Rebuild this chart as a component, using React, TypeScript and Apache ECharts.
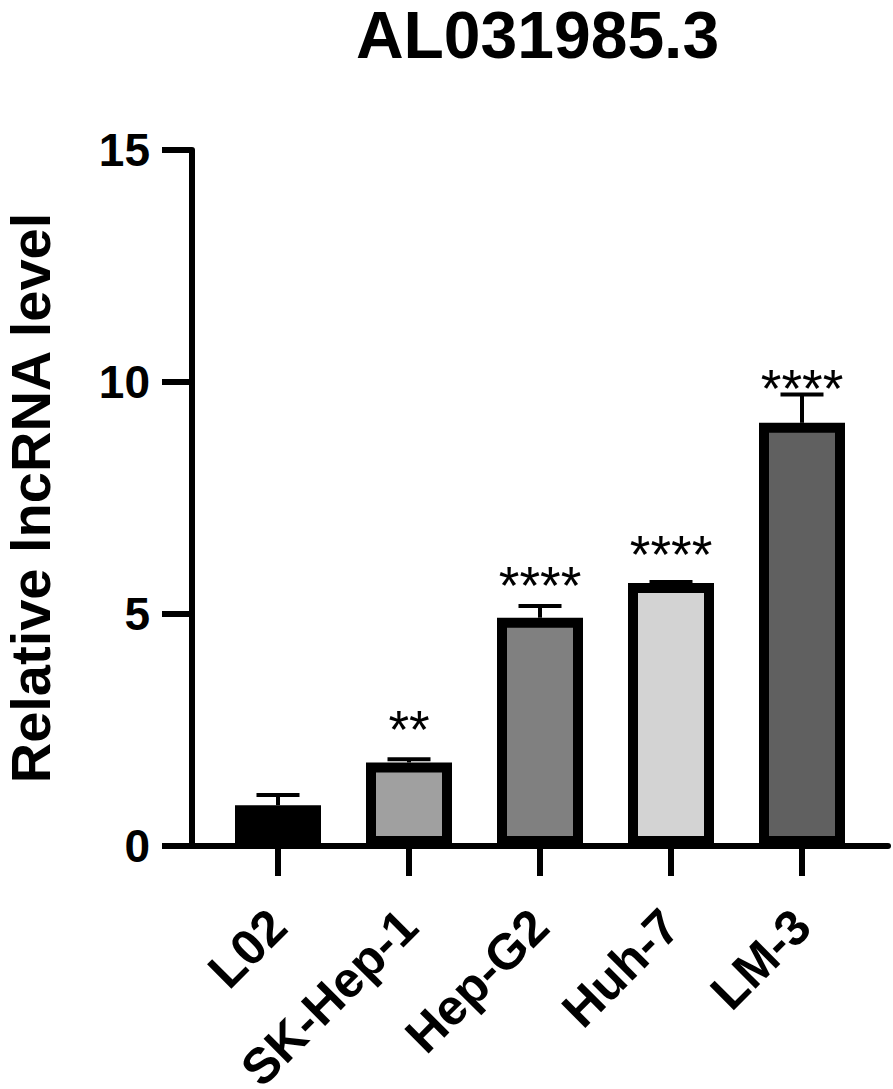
import React, { useEffect, useRef } from "react";
import * as echarts from "echarts";

const title = "AL031985.3";
const yAxisName = "Relative lncRNA level";
const categories = ["L02", "SK-Hep-1", "Hep-G2", "Huh-7", "LM-3"];
const means = [0.88, 1.8, 4.92, 5.67, 9.12];
const sds = [0.22, 0.07, 0.25, 0.02, 0.61];
const sigLabels = ["", "**", "****", "****", "****"];
const sigLabelY = [0, 2.76, 5.88, 6.55, 10.11];
const barColors = ["#000000", "#a0a0a0", "#808080", "#d3d3d3", "#606060"];
const yMin = 0;
const yMax = 15;
const yInterval = 5;

const FONT = "'Liberation Sans', Arial, Helvetica, sans-serif";

export default function App() {
  const ref = useRef<HTMLDivElement>(null);
  useEffect(() => {
    if (!ref.current) return;
    const chart = echarts.init(ref.current, null, { renderer: "svg" });
    const option: any = {
      animation: false,
      backgroundColor: "#ffffff",
      graphic: [
        {
          type: "text",
          x: 537.5,
          y: 35,
          style: {
            text: title,
            align: "center",
            verticalAlign: "middle",
            font: `bold 66px ${FONT}`,
            lineHeight: 66,
            fill: "#000",
          },
        },
      ],
      grid: [
        { left: 212.5, right: 25.5, top: 150, bottom: 243, containLabel: false, outerBoundsMode: "none" },
        { left: 192, right: 5, top: 150, bottom: 243, containLabel: false, outerBoundsMode: "none" },
      ],
      xAxis: [
        {
          type: "category",
          gridIndex: 0,
          data: categories,
          axisLine: { show: false },
          axisTick: {
            show: true,
            alignWithLabel: true,
            length: 30,
            lineStyle: { color: "#000", width: 6 },
          },
          axisLabel: {
            interval: 0,
            rotate: 45,
            margin: 72,
            color: "#000",
            fontFamily: FONT,
            fontWeight: "bold",
            fontSize: 50,
          },
          splitLine: { show: false },
        },
        {
          type: "value",
          gridIndex: 1,
          min: 0,
          max: 1,
          axisLine: { show: true, lineStyle: { color: "#000", width: 6 } },
          axisTick: { show: false },
          axisLabel: { show: false },
          splitLine: { show: false },
        },
      ],
      yAxis: [
        {
          type: "value",
          gridIndex: 0,
          min: yMin,
          max: yMax,
          interval: yInterval,
          show: false,
          splitLine: { show: false },
        },
        {
          type: "value",
          gridIndex: 1,
          min: yMin,
          max: yMax,
          interval: yInterval,
          name: yAxisName,
          nameLocation: "middle",
          nameRotate: 90,
          nameGap: 134,
          nameTextStyle: {
            color: "#000",
            fontFamily: FONT,
            fontWeight: "bold",
            fontSize: 56,
          },
          axisLine: { show: true, lineStyle: { color: "#000", width: 6 } },
          axisTick: {
            show: true,
            length: 30,
            lineStyle: { color: "#000", width: 6 },
          },
          axisLabel: {
            margin: 42,
            color: "#000",
            fontFamily: FONT,
            fontWeight: "bold",
            fontSize: 46,
          },
          splitLine: { show: false },
        },
      ],
      series: [
        {
          type: "bar",
          xAxisIndex: 0,
          yAxisIndex: 0,
          barWidth: 86,
          data: means.map((v, i) => ({
            value: v,
            itemStyle: {
              color: barColors[i],
              borderColor: "#000",
              borderWidth: 10,
            },
          })),
          z: 2,
        },
        {
          type: "custom",
          xAxisIndex: 0,
          yAxisIndex: 0,
          z: 3,
          data: categories.map((_, i) => [i, means[i], sds[i], sigLabelY[i]]),
          renderItem: (params: any, api: any) => {
            const i = api.value(0);
            const m = api.value(1);
            const e = api.value(2);
            const sy = api.value(3);
            const base = api.coord([i, m]);
            const top = api.coord([i, m + e]);
            const children: any[] = [];
            if (e > 0) {
              children.push({
                type: "line",
                shape: { x1: base[0], y1: base[1], x2: top[0], y2: top[1] },
                style: { stroke: "#000", lineWidth: 4 },
              });
              children.push({
                type: "line",
                shape: { x1: top[0] - 21.5, y1: top[1], x2: top[0] + 21.5, y2: top[1] },
                style: { stroke: "#000", lineWidth: 4 },
              });
            }
            const lbl = sigLabels[params.dataIndex];
            if (lbl) {
              const sp = api.coord([i, sy]);
              children.push({
                type: "text",
                x: sp[0],
                y: sp[1] + 12,
                style: {
                  text: lbl,
                  align: "center",
                  verticalAlign: "middle",
                  font: `53px ${FONT}`,
                  fill: "#000",
                },
              });
            }
            return { type: "group", children };
          },
        },
      ],
    };
    chart.setOption(option);
    return () => chart.dispose();
  }, []);
  return (
    <div
      ref={ref}
      style={{ position: "fixed", left: 0, top: 0, width: 893, height: 1089, background: "#fff" }}
    />
  );
}
